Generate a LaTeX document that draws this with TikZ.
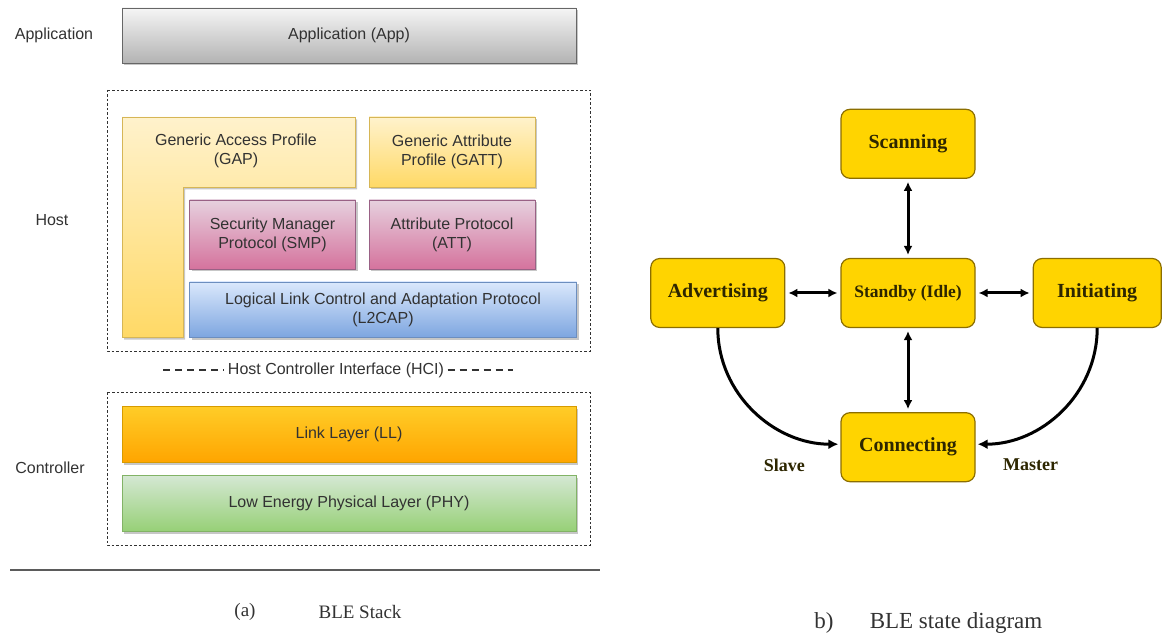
\documentclass[tikz,border=0pt]{standalone}
\usepackage{fontspec}
\setmainfont{Liberation Serif}
\setsansfont{Liberation Sans}
\usetikzlibrary{arrows.meta, positioning, shadows}
\definecolor{stacktext}{RGB}{50, 50, 50}
\definecolor{apptop}{RGB}{245, 245, 245}
\definecolor{appbot}{RGB}{179, 179, 179}
\definecolor{appedge}{RGB}{102, 102, 102}
\definecolor{gaptop}{RGB}{255, 242, 204}
\definecolor{gapbot}{RGB}{255, 217, 102}
\definecolor{gapedge}{RGB}{214, 182, 86}
\definecolor{smptop}{RGB}{230, 208, 222}
\definecolor{smpbot}{RGB}{213, 115, 157}
\definecolor{smpedge}{RGB}{153, 97, 133}
\definecolor{l2top}{RGB}{218, 232, 252}
\definecolor{l2bot}{RGB}{126, 166, 224}
\definecolor{l2edge}{RGB}{108, 142, 191}
\definecolor{lltop}{RGB}{255, 205, 40}
\definecolor{llbot}{RGB}{255, 165, 0}
\definecolor{lledge}{RGB}{215, 155, 0}
\definecolor{phytop}{RGB}{213, 232, 212}
\definecolor{phybot}{RGB}{151, 208, 119}
\definecolor{phyedge}{RGB}{130, 179, 102}
\definecolor{stateyellow}{RGB}{255, 212, 0}
\definecolor{stateedge}{RGB}{140, 110, 0}
\definecolor{statetext}{RGB}{45, 38, 0}
\newcommand{\stackfont}{\fontsize{16}{19}\selectfont}
\newcommand{\statefont}{\fontsize{20}{24}\selectfont\bfseries}

\begin{document}
\begin{tikzpicture}[
        x=1pt, y=-1pt,
        boxshadow/.style={drop shadow={shadow xshift=2pt, shadow yshift=-2.5pt, opacity=0.22, fill=black}},
        layer/.style={rectangle, draw, line width=0.8pt, align=center, inner sep=2pt, font=\sffamily\stackfont, text=stacktext, boxshadow},
        sidelabel/.style={font=\sffamily\stackfont, text=stacktext},
        frame/.style={draw=stacktext, dashed, dash pattern=on 2.5pt off 2pt, line width=0.8pt},
        statebox/.style={rectangle, rounded corners=9pt, draw=stateedge, line width=1.2pt, fill=stateyellow, minimum width=134pt, minimum height=69pt, font=\statefont, text=statetext},
        link/.style={{Latex[length=9pt, width=9pt]}-{Latex[length=9pt, width=9pt]}, line width=3pt, shorten <=3pt, shorten >=3pt},
        flow/.style={-{Latex[length=10pt, width=10pt]}, line width=3pt, shorten >=2pt},
        edgelabel/.style={font=\fontsize{18}{20}\selectfont\bfseries, text=statetext},
        caption/.style={font=\fontsize{19}{22}\selectfont, text=stacktext}
    ]
        \useasboundingbox (0,0) rectangle (1162,636);

        % (a) BLE stack
        \node[sidelabel] (lapp) at (54,35) {Application};
        \node[sidelabel] (lhost) at (52,220) {Host};
        \node[sidelabel] (lctrl) at (50,468) {Controller};

        \node[layer, draw=appedge, top color=apptop, bottom color=appbot, minimum width=454pt, minimum height=55pt] (app) at (349,35.5) {Application (App)};

        \draw[frame] (107,90) rectangle (590,351);
        \path[draw=gapedge, line width=0.8pt, top color=gaptop, bottom color=gapbot, boxshadow] (122,117) -- (355,117) -- (355,187) -- (183,187) -- (183,337) -- (122,337) -- cycle;
        \node[font=\sffamily\stackfont, text=stacktext, align=center] (gap) at (236,151) {Generic Access Profile\\(GAP)};
        \node[layer, draw=gapedge, top color=gaptop, bottom color=gapbot, minimum width=166pt, minimum height=70pt] (gatt) at (452,152) {Generic Attribute\\Profile (GATT)};
        \node[layer, draw=smpedge, top color=smptop, bottom color=smpbot, minimum width=166pt, minimum height=69pt] (smp) at (272.5,234.5) {Security Manager\\Protocol (SMP)};
        \node[layer, draw=smpedge, top color=smptop, bottom color=smpbot, minimum width=166pt, minimum height=69pt] (att) at (452,234.5) {Attribute Protocol\\(ATT)};
        \node[layer, draw=l2edge, top color=l2top, bottom color=l2bot, minimum width=387pt, minimum height=55pt] (l2cap) at (383,309.5) {Logical Link Control and Adaptation Protocol\\(L2CAP)};

        \node[sidelabel] (hci) at (336,370) {Host Controller Interface (HCI)};
        \coordinate (hcil) at (163,370);
        \coordinate (hcir) at (513,370);
        \draw[stacktext, line width=2.8pt, dash pattern=on 7pt off 5pt] (hcil) -- (hci.west);
        \draw[stacktext, line width=2.8pt, dash pattern=on 7pt off 5pt] (hci.east) -- (hcir);

        \draw[frame] (107,392) rectangle (590,545);
        \node[layer, draw=lledge, top color=lltop, bottom color=llbot, minimum width=454pt, minimum height=56pt] (ll) at (349,434) {Link Layer (LL)};
        \node[layer, draw=phyedge, top color=phytop, bottom color=phybot, minimum width=454pt, minimum height=56pt] (phy) at (349,503) {Low Energy Physical Layer (PHY)};

        \coordinate (rulel) at (10,570);
        \coordinate (ruler) at (600,570);
        \draw[stacktext!80, line width=1.2pt] (rulel) -- (ruler);
        \node[caption] (capa) at (245,612) {(a)};
        \node[caption] (capatext) at (360,612) {BLE Stack};

        % (b) BLE state diagram
        \node[statebox] (standby) at (908,293) {\fontsize{17.5}{20}\selectfont Standby (Idle)};
        \node[statebox, above=79pt of standby] (scan) {Scanning};
        \node[statebox, below=84pt of standby] (conn) {Connecting};
        \node[statebox, left=55pt of standby] (adv) {Advertising};
        \node[statebox, right=57pt of standby, minimum width=128pt] (init) {Initiating};

        \draw[link] (scan) -- (standby);
        \draw[link] (standby) -- (conn);
        \draw[link] (adv) -- (standby);
        \draw[link] (standby) -- (init);
        \draw[flow] (adv.south) to[out=-90, in=180] ([yshift=3pt]conn.west);
        \draw[flow] (init.south) to[out=-90, in=0] ([yshift=3pt]conn.east);
        \node[edgelabel, below left=8pt and 32pt of conn.west] (slave) {Slave};
        \node[edgelabel, below right=8pt and 24pt of conn.east] (master) {Master};

        \node[caption, font=\fontsize{23}{26}\selectfont] (capb) at (824,623) {b)};
        \node[caption, font=\fontsize{23}{26}\selectfont] (capbtext) at (956,623) {BLE state diagram};
    \end{tikzpicture}
\end{document}
